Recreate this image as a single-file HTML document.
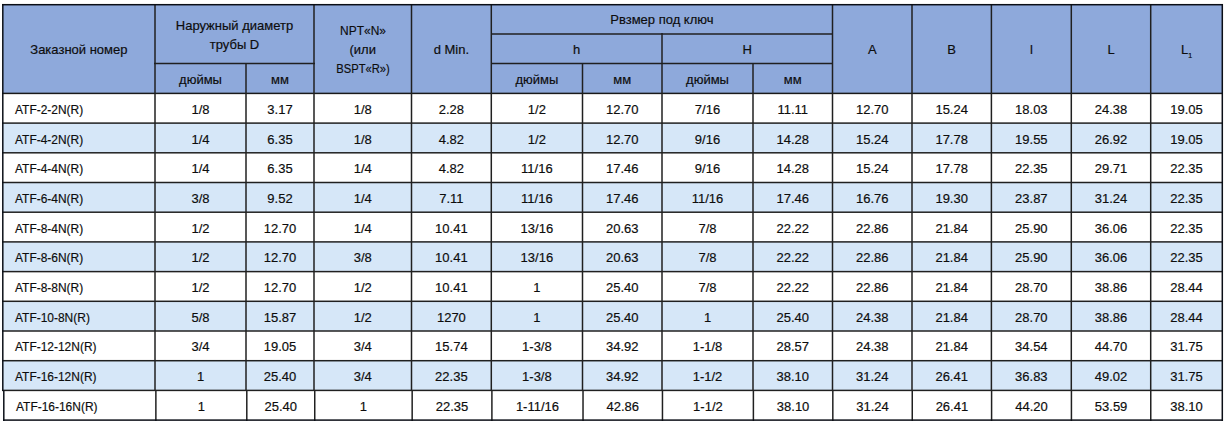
<!DOCTYPE html>
<html><head><meta charset="utf-8"><style>
html,body{margin:0;padding:0;background:#fff;width:1226px;height:427px;overflow:hidden}
body>div{position:absolute}
.t{font-family:"Liberation Sans",sans-serif;font-size:13px;line-height:15px;color:#0d0d0d;-webkit-text-stroke:0.18px #0d0d0d;white-space:nowrap}
.sub{font-size:7px;position:relative;top:4px;margin-left:0px;-webkit-text-stroke:0.2px #0d0d0d}
</style></head><body>
<div style="left:2.80px;top:4.70px;width:1219.50px;height:88.70px;background:#8EA9DB;"></div>
<div style="left:2.80px;top:93.40px;width:1219.50px;height:29.70px;background:#FFFFFF;"></div>
<div style="left:2.80px;top:123.10px;width:1219.50px;height:29.70px;background:#D6E7F8;"></div>
<div style="left:2.80px;top:152.80px;width:1219.50px;height:29.70px;background:#FFFFFF;"></div>
<div style="left:2.80px;top:182.50px;width:1219.50px;height:29.70px;background:#D6E7F8;"></div>
<div style="left:2.80px;top:212.20px;width:1219.50px;height:29.70px;background:#FFFFFF;"></div>
<div style="left:2.80px;top:241.90px;width:1219.50px;height:29.70px;background:#D6E7F8;"></div>
<div style="left:2.80px;top:271.60px;width:1219.50px;height:29.70px;background:#FFFFFF;"></div>
<div style="left:2.80px;top:301.30px;width:1219.50px;height:29.70px;background:#D6E7F8;"></div>
<div style="left:2.80px;top:331.00px;width:1219.50px;height:29.70px;background:#FFFFFF;"></div>
<div style="left:2.80px;top:360.70px;width:1219.50px;height:29.70px;background:#D6E7F8;"></div>
<div style="left:2.80px;top:390.40px;width:1219.50px;height:29.70px;background:#FFFFFF;"></div>
<div style="left:491.00px;top:33.00px;width:342.00px;height:1.00px;background:rgba(32,32,32,0.750);"></div>
<div style="left:491.00px;top:34.00px;width:342.00px;height:1.00px;background:rgba(32,32,32,0.750);"></div>
<div style="left:154.00px;top:62.00px;width:161.00px;height:1.00px;background:rgba(32,32,32,0.250);"></div>
<div style="left:154.00px;top:63.00px;width:161.00px;height:1.00px;background:rgba(32,32,32,1.000);"></div>
<div style="left:154.00px;top:64.00px;width:161.00px;height:1.00px;background:rgba(32,32,32,0.250);"></div>
<div style="left:491.00px;top:62.00px;width:342.00px;height:1.00px;background:rgba(32,32,32,0.250);"></div>
<div style="left:491.00px;top:63.00px;width:342.00px;height:1.00px;background:rgba(32,32,32,1.000);"></div>
<div style="left:491.00px;top:64.00px;width:342.00px;height:1.00px;background:rgba(32,32,32,0.250);"></div>
<div style="left:2.00px;top:92.00px;width:1221.00px;height:1.00px;background:rgba(26,26,26,0.350);"></div>
<div style="left:2.00px;top:93.00px;width:1221.00px;height:1.00px;background:rgba(26,26,26,1.000);"></div>
<div style="left:2.00px;top:94.00px;width:1221.00px;height:1.00px;background:rgba(26,26,26,0.150);"></div>
<div style="left:2.00px;top:122.00px;width:1221.00px;height:1.00px;background:rgba(32,32,32,0.650);"></div>
<div style="left:2.00px;top:123.00px;width:1221.00px;height:1.00px;background:rgba(32,32,32,0.850);"></div>
<div style="left:2.00px;top:152.00px;width:1221.00px;height:1.00px;background:rgba(32,32,32,0.950);"></div>
<div style="left:2.00px;top:153.00px;width:1221.00px;height:1.00px;background:rgba(32,32,32,0.550);"></div>
<div style="left:2.00px;top:181.00px;width:1221.00px;height:1.00px;background:rgba(32,32,32,0.250);"></div>
<div style="left:2.00px;top:182.00px;width:1221.00px;height:1.00px;background:rgba(32,32,32,1.000);"></div>
<div style="left:2.00px;top:183.00px;width:1221.00px;height:1.00px;background:rgba(32,32,32,0.250);"></div>
<div style="left:2.00px;top:211.00px;width:1221.00px;height:1.00px;background:rgba(32,32,32,0.550);"></div>
<div style="left:2.00px;top:212.00px;width:1221.00px;height:1.00px;background:rgba(32,32,32,0.950);"></div>
<div style="left:2.00px;top:241.00px;width:1221.00px;height:1.00px;background:rgba(32,32,32,0.850);"></div>
<div style="left:2.00px;top:242.00px;width:1221.00px;height:1.00px;background:rgba(32,32,32,0.650);"></div>
<div style="left:2.00px;top:270.00px;width:1221.00px;height:1.00px;background:rgba(32,32,32,0.150);"></div>
<div style="left:2.00px;top:271.00px;width:1221.00px;height:1.00px;background:rgba(32,32,32,1.000);"></div>
<div style="left:2.00px;top:272.00px;width:1221.00px;height:1.00px;background:rgba(32,32,32,0.350);"></div>
<div style="left:2.00px;top:300.00px;width:1221.00px;height:1.00px;background:rgba(32,32,32,0.450);"></div>
<div style="left:2.00px;top:301.00px;width:1221.00px;height:1.00px;background:rgba(32,32,32,1.000);"></div>
<div style="left:2.00px;top:302.00px;width:1221.00px;height:1.00px;background:rgba(32,32,32,0.050);"></div>
<div style="left:2.00px;top:330.00px;width:1221.00px;height:1.00px;background:rgba(32,32,32,0.750);"></div>
<div style="left:2.00px;top:331.00px;width:1221.00px;height:1.00px;background:rgba(32,32,32,0.750);"></div>
<div style="left:2.00px;top:359.00px;width:1221.00px;height:1.00px;background:rgba(32,32,32,0.050);"></div>
<div style="left:2.00px;top:360.00px;width:1221.00px;height:1.00px;background:rgba(32,32,32,1.000);"></div>
<div style="left:2.00px;top:361.00px;width:1221.00px;height:1.00px;background:rgba(32,32,32,0.450);"></div>
<div style="left:2.00px;top:389.00px;width:1221.00px;height:1.00px;background:rgba(32,32,32,0.350);"></div>
<div style="left:2.00px;top:390.00px;width:1221.00px;height:1.00px;background:rgba(32,32,32,1.000);"></div>
<div style="left:2.00px;top:391.00px;width:1221.00px;height:1.00px;background:rgba(32,32,32,0.150);"></div>
<div style="left:154.00px;top:4.00px;width:1.00px;height:387.00px;background:rgba(32,32,32,0.750);"></div>
<div style="left:155.00px;top:4.00px;width:1.00px;height:387.00px;background:rgba(32,32,32,0.750);"></div>
<div style="left:155.00px;top:391.00px;width:1.00px;height:30.00px;background:rgba(32,32,32,0.877);"></div>
<div style="left:156.00px;top:391.00px;width:1.00px;height:30.00px;background:rgba(32,32,32,0.623);"></div>
<div style="left:313.00px;top:4.00px;width:1.00px;height:387.00px;background:rgba(32,32,32,0.750);"></div>
<div style="left:314.00px;top:4.00px;width:1.00px;height:387.00px;background:rgba(32,32,32,0.750);"></div>
<div style="left:314.00px;top:391.00px;width:1.00px;height:30.00px;background:rgba(32,32,32,1.000);"></div>
<div style="left:315.00px;top:391.00px;width:1.00px;height:30.00px;background:rgba(32,32,32,0.493);"></div>
<div style="left:410.00px;top:4.00px;width:1.00px;height:387.00px;background:rgba(32,32,32,0.250);"></div>
<div style="left:411.00px;top:4.00px;width:1.00px;height:387.00px;background:rgba(32,32,32,1.000);"></div>
<div style="left:412.00px;top:4.00px;width:1.00px;height:387.00px;background:rgba(32,32,32,0.250);"></div>
<div style="left:411.00px;top:391.00px;width:1.00px;height:30.00px;background:rgba(32,32,32,0.587);"></div>
<div style="left:412.00px;top:391.00px;width:1.00px;height:30.00px;background:rgba(32,32,32,0.913);"></div>
<div style="left:490.00px;top:4.00px;width:1.00px;height:387.00px;background:rgba(32,32,32,0.450);"></div>
<div style="left:491.00px;top:4.00px;width:1.00px;height:387.00px;background:rgba(32,32,32,1.000);"></div>
<div style="left:492.00px;top:4.00px;width:1.00px;height:387.00px;background:rgba(32,32,32,0.050);"></div>
<div style="left:491.00px;top:391.00px;width:1.00px;height:30.00px;background:rgba(32,32,32,0.852);"></div>
<div style="left:492.00px;top:391.00px;width:1.00px;height:30.00px;background:rgba(32,32,32,0.648);"></div>
<div style="left:831.00px;top:4.00px;width:1.00px;height:387.00px;background:rgba(32,32,32,0.250);"></div>
<div style="left:832.00px;top:4.00px;width:1.00px;height:387.00px;background:rgba(32,32,32,1.000);"></div>
<div style="left:833.00px;top:4.00px;width:1.00px;height:387.00px;background:rgba(32,32,32,0.250);"></div>
<div style="left:832.00px;top:391.00px;width:1.00px;height:30.00px;background:rgba(32,32,32,0.931);"></div>
<div style="left:833.00px;top:391.00px;width:1.00px;height:30.00px;background:rgba(32,32,32,0.569);"></div>
<div style="left:911.00px;top:4.00px;width:1.00px;height:387.00px;background:rgba(32,32,32,0.750);"></div>
<div style="left:912.00px;top:4.00px;width:1.00px;height:387.00px;background:rgba(32,32,32,0.750);"></div>
<div style="left:911.00px;top:391.00px;width:1.00px;height:30.00px;background:rgba(32,32,32,0.496);"></div>
<div style="left:912.00px;top:391.00px;width:1.00px;height:30.00px;background:rgba(32,32,32,1.000);"></div>
<div style="left:990.00px;top:4.00px;width:1.00px;height:387.00px;background:rgba(32,32,32,0.350);"></div>
<div style="left:991.00px;top:4.00px;width:1.00px;height:387.00px;background:rgba(32,32,32,1.000);"></div>
<div style="left:992.00px;top:4.00px;width:1.00px;height:387.00px;background:rgba(32,32,32,0.150);"></div>
<div style="left:990.00px;top:391.00px;width:1.00px;height:30.00px;background:rgba(32,32,32,0.161);"></div>
<div style="left:991.00px;top:391.00px;width:1.00px;height:30.00px;background:rgba(32,32,32,1.000);"></div>
<div style="left:992.00px;top:391.00px;width:1.00px;height:30.00px;background:rgba(32,32,32,0.339);"></div>
<div style="left:1070.00px;top:4.00px;width:1.00px;height:387.00px;background:rgba(32,32,32,0.450);"></div>
<div style="left:1071.00px;top:4.00px;width:1.00px;height:387.00px;background:rgba(32,32,32,1.000);"></div>
<div style="left:1072.00px;top:4.00px;width:1.00px;height:387.00px;background:rgba(32,32,32,0.050);"></div>
<div style="left:1070.00px;top:391.00px;width:1.00px;height:30.00px;background:rgba(32,32,32,0.327);"></div>
<div style="left:1071.00px;top:391.00px;width:1.00px;height:30.00px;background:rgba(32,32,32,1.000);"></div>
<div style="left:1072.00px;top:391.00px;width:1.00px;height:30.00px;background:rgba(32,32,32,0.173);"></div>
<div style="left:1149.00px;top:4.00px;width:1.00px;height:387.00px;background:rgba(32,32,32,0.050);"></div>
<div style="left:1150.00px;top:4.00px;width:1.00px;height:387.00px;background:rgba(32,32,32,1.000);"></div>
<div style="left:1151.00px;top:4.00px;width:1.00px;height:387.00px;background:rgba(32,32,32,0.450);"></div>
<div style="left:1150.00px;top:391.00px;width:1.00px;height:30.00px;background:rgba(32,32,32,0.992);"></div>
<div style="left:1151.00px;top:391.00px;width:1.00px;height:30.00px;background:rgba(32,32,32,0.508);"></div>
<div style="left:245.00px;top:63.00px;width:1.00px;height:328.00px;background:rgba(32,32,32,0.750);"></div>
<div style="left:246.00px;top:63.00px;width:1.00px;height:328.00px;background:rgba(32,32,32,0.750);"></div>
<div style="left:246.00px;top:391.00px;width:1.00px;height:30.00px;background:rgba(32,32,32,0.951);"></div>
<div style="left:247.00px;top:391.00px;width:1.00px;height:30.00px;background:rgba(32,32,32,0.549);"></div>
<div style="left:581.00px;top:63.00px;width:1.00px;height:328.00px;background:rgba(32,32,32,0.250);"></div>
<div style="left:582.00px;top:63.00px;width:1.00px;height:328.00px;background:rgba(32,32,32,1.000);"></div>
<div style="left:583.00px;top:63.00px;width:1.00px;height:328.00px;background:rgba(32,32,32,0.250);"></div>
<div style="left:582.00px;top:391.00px;width:1.00px;height:30.00px;background:rgba(32,32,32,0.727);"></div>
<div style="left:583.00px;top:391.00px;width:1.00px;height:30.00px;background:rgba(32,32,32,0.773);"></div>
<div style="left:752.00px;top:63.00px;width:1.00px;height:328.00px;background:rgba(32,32,32,0.750);"></div>
<div style="left:753.00px;top:63.00px;width:1.00px;height:328.00px;background:rgba(32,32,32,0.750);"></div>
<div style="left:752.00px;top:391.00px;width:1.00px;height:30.00px;background:rgba(32,32,32,0.366);"></div>
<div style="left:753.00px;top:391.00px;width:1.00px;height:30.00px;background:rgba(32,32,32,1.000);"></div>
<div style="left:754.00px;top:391.00px;width:1.00px;height:30.00px;background:rgba(32,32,32,0.134);"></div>
<div style="left:661.00px;top:33.00px;width:1.00px;height:358.00px;background:rgba(32,32,32,0.750);"></div>
<div style="left:662.00px;top:33.00px;width:1.00px;height:358.00px;background:rgba(32,32,32,0.750);"></div>
<div style="left:661.00px;top:391.00px;width:1.00px;height:30.00px;background:rgba(32,32,32,0.292);"></div>
<div style="left:662.00px;top:391.00px;width:1.00px;height:30.00px;background:rgba(32,32,32,1.000);"></div>
<div style="left:663.00px;top:391.00px;width:1.00px;height:30.00px;background:rgba(32,32,32,0.208);"></div>
<div style="left:2.00px;top:3.00px;width:1221.00px;height:1.00px;background:rgba(10,14,22,0.050);"></div>
<div style="left:2.00px;top:4.00px;width:1221.00px;height:1.00px;background:rgba(10,14,22,1.000);"></div>
<div style="left:2.00px;top:5.00px;width:1221.00px;height:1.00px;background:rgba(10,14,22,0.450);"></div>
<div style="left:3.00px;top:419.00px;width:1220.00px;height:1.00px;background:rgba(10,14,22,0.650);"></div>
<div style="left:3.00px;top:420.00px;width:1220.00px;height:1.00px;background:rgba(10,14,22,0.850);"></div>
<div style="left:2.00px;top:4.00px;width:1.00px;height:387.00px;background:rgba(10,14,22,0.950);"></div>
<div style="left:3.00px;top:4.00px;width:1.00px;height:387.00px;background:rgba(10,14,22,0.550);"></div>
<div style="left:3.00px;top:391.00px;width:1.00px;height:30.00px;background:rgba(10,14,22,0.950);"></div>
<div style="left:4.00px;top:391.00px;width:1.00px;height:30.00px;background:rgba(10,14,22,0.550);"></div>
<div style="left:1221.00px;top:4.00px;width:1.00px;height:417.00px;background:rgba(10,14,22,0.450);"></div>
<div style="left:1222.00px;top:4.00px;width:1.00px;height:417.00px;background:rgba(10,14,22,1.000);"></div>
<div style="left:1223.00px;top:4.00px;width:1.00px;height:417.00px;background:rgba(10,14,22,0.050);"></div>
<div class="t" style="left:78.90px;top:42.00px;transform:translateX(-50%);">Заказной номер</div>
<div class="t" style="left:234.50px;top:18.00px;transform:translateX(-50%);">Наружный диаметр</div>
<div class="t" style="left:234.50px;top:37.00px;transform:translateX(-50%);">трубы D</div>
<div class="t" style="left:200.50px;top:72.00px;transform:translateX(-50%);">дюймы</div>
<div class="t" style="left:280.00px;top:72.00px;transform:translateX(-50%);">мм</div>
<div class="t" style="left:362.75px;top:23.00px;transform:translateX(-50%) scaleX(0.92);">NPT«N»</div>
<div class="t" style="left:362.75px;top:42.00px;transform:translateX(-50%);">(или</div>
<div class="t" style="left:362.75px;top:61.00px;transform:translateX(-50%) scaleX(0.86);">BSPT«R»)</div>
<div class="t" style="left:451.40px;top:42.00px;transform:translateX(-50%);">d Min.</div>
<div class="t" style="left:661.90px;top:12.00px;transform:translateX(-50%);">Рвзмер под ключ</div>
<div class="t" style="left:576.65px;top:42.00px;transform:translateX(-50%);">h</div>
<div class="t" style="left:747.25px;top:42.00px;transform:translateX(-50%);">H</div>
<div class="t" style="left:536.90px;top:72.00px;transform:translateX(-50%);">дюймы</div>
<div class="t" style="left:622.25px;top:72.00px;transform:translateX(-50%);">мм</div>
<div class="t" style="left:707.50px;top:72.00px;transform:translateX(-50%);">дюймы</div>
<div class="t" style="left:792.75px;top:72.00px;transform:translateX(-50%);">мм</div>
<div class="t" style="left:872.25px;top:42.00px;transform:translateX(-50%);">A</div>
<div class="t" style="left:951.70px;top:42.00px;transform:translateX(-50%);">B</div>
<div class="t" style="left:1031.35px;top:42.00px;transform:translateX(-50%);">l</div>
<div class="t" style="left:1111.00px;top:42.00px;transform:translateX(-50%);">L</div>
<div class="t" style="left:1186.50px;top:42.00px;transform:translateX(-50%);">L<span class="sub">1</span></div>
<div class="t" style="left:15.00px;top:101.80px;transform:scaleX(0.92);transform-origin:0 0;">ATF-2-2N(R)</div>
<div class="t" style="left:200.50px;top:101.80px;transform:translateX(-50%);">1/8</div>
<div class="t" style="left:280.00px;top:101.80px;transform:translateX(-50%);">3.17</div>
<div class="t" style="left:362.75px;top:101.80px;transform:translateX(-50%);">1/8</div>
<div class="t" style="left:451.40px;top:101.80px;transform:translateX(-50%);">2.28</div>
<div class="t" style="left:536.90px;top:101.80px;transform:translateX(-50%);">1/2</div>
<div class="t" style="left:622.25px;top:101.80px;transform:translateX(-50%);">12.70</div>
<div class="t" style="left:707.50px;top:101.80px;transform:translateX(-50%);">7/16</div>
<div class="t" style="left:792.75px;top:101.80px;transform:translateX(-50%);">11.11</div>
<div class="t" style="left:872.25px;top:101.80px;transform:translateX(-50%);">12.70</div>
<div class="t" style="left:951.70px;top:101.80px;transform:translateX(-50%);">15.24</div>
<div class="t" style="left:1031.35px;top:101.80px;transform:translateX(-50%);">18.03</div>
<div class="t" style="left:1111.00px;top:101.80px;transform:translateX(-50%);">24.38</div>
<div class="t" style="left:1186.50px;top:101.80px;transform:translateX(-50%);">19.05</div>
<div class="t" style="left:15.00px;top:131.50px;transform:scaleX(0.92);transform-origin:0 0;">ATF-4-2N(R)</div>
<div class="t" style="left:200.50px;top:131.50px;transform:translateX(-50%);">1/4</div>
<div class="t" style="left:280.00px;top:131.50px;transform:translateX(-50%);">6.35</div>
<div class="t" style="left:362.75px;top:131.50px;transform:translateX(-50%);">1/8</div>
<div class="t" style="left:451.40px;top:131.50px;transform:translateX(-50%);">4.82</div>
<div class="t" style="left:536.90px;top:131.50px;transform:translateX(-50%);">1/2</div>
<div class="t" style="left:622.25px;top:131.50px;transform:translateX(-50%);">12.70</div>
<div class="t" style="left:707.50px;top:131.50px;transform:translateX(-50%);">9/16</div>
<div class="t" style="left:792.75px;top:131.50px;transform:translateX(-50%);">14.28</div>
<div class="t" style="left:872.25px;top:131.50px;transform:translateX(-50%);">15.24</div>
<div class="t" style="left:951.70px;top:131.50px;transform:translateX(-50%);">17.78</div>
<div class="t" style="left:1031.35px;top:131.50px;transform:translateX(-50%);">19.55</div>
<div class="t" style="left:1111.00px;top:131.50px;transform:translateX(-50%);">26.92</div>
<div class="t" style="left:1186.50px;top:131.50px;transform:translateX(-50%);">19.05</div>
<div class="t" style="left:15.00px;top:161.20px;transform:scaleX(0.92);transform-origin:0 0;">ATF-4-4N(R)</div>
<div class="t" style="left:200.50px;top:161.20px;transform:translateX(-50%);">1/4</div>
<div class="t" style="left:280.00px;top:161.20px;transform:translateX(-50%);">6.35</div>
<div class="t" style="left:362.75px;top:161.20px;transform:translateX(-50%);">1/4</div>
<div class="t" style="left:451.40px;top:161.20px;transform:translateX(-50%);">4.82</div>
<div class="t" style="left:536.90px;top:161.20px;transform:translateX(-50%);">11/16</div>
<div class="t" style="left:622.25px;top:161.20px;transform:translateX(-50%);">17.46</div>
<div class="t" style="left:707.50px;top:161.20px;transform:translateX(-50%);">9/16</div>
<div class="t" style="left:792.75px;top:161.20px;transform:translateX(-50%);">14.28</div>
<div class="t" style="left:872.25px;top:161.20px;transform:translateX(-50%);">15.24</div>
<div class="t" style="left:951.70px;top:161.20px;transform:translateX(-50%);">17.78</div>
<div class="t" style="left:1031.35px;top:161.20px;transform:translateX(-50%);">22.35</div>
<div class="t" style="left:1111.00px;top:161.20px;transform:translateX(-50%);">29.71</div>
<div class="t" style="left:1186.50px;top:161.20px;transform:translateX(-50%);">22.35</div>
<div class="t" style="left:15.00px;top:190.90px;transform:scaleX(0.92);transform-origin:0 0;">ATF-6-4N(R)</div>
<div class="t" style="left:200.50px;top:190.90px;transform:translateX(-50%);">3/8</div>
<div class="t" style="left:280.00px;top:190.90px;transform:translateX(-50%);">9.52</div>
<div class="t" style="left:362.75px;top:190.90px;transform:translateX(-50%);">1/4</div>
<div class="t" style="left:451.40px;top:190.90px;transform:translateX(-50%);">7.11</div>
<div class="t" style="left:536.90px;top:190.90px;transform:translateX(-50%);">11/16</div>
<div class="t" style="left:622.25px;top:190.90px;transform:translateX(-50%);">17.46</div>
<div class="t" style="left:707.50px;top:190.90px;transform:translateX(-50%);">11/16</div>
<div class="t" style="left:792.75px;top:190.90px;transform:translateX(-50%);">17.46</div>
<div class="t" style="left:872.25px;top:190.90px;transform:translateX(-50%);">16.76</div>
<div class="t" style="left:951.70px;top:190.90px;transform:translateX(-50%);">19.30</div>
<div class="t" style="left:1031.35px;top:190.90px;transform:translateX(-50%);">23.87</div>
<div class="t" style="left:1111.00px;top:190.90px;transform:translateX(-50%);">31.24</div>
<div class="t" style="left:1186.50px;top:190.90px;transform:translateX(-50%);">22.35</div>
<div class="t" style="left:15.00px;top:220.60px;transform:scaleX(0.92);transform-origin:0 0;">ATF-8-4N(R)</div>
<div class="t" style="left:200.50px;top:220.60px;transform:translateX(-50%);">1/2</div>
<div class="t" style="left:280.00px;top:220.60px;transform:translateX(-50%);">12.70</div>
<div class="t" style="left:362.75px;top:220.60px;transform:translateX(-50%);">1/4</div>
<div class="t" style="left:451.40px;top:220.60px;transform:translateX(-50%);">10.41</div>
<div class="t" style="left:536.90px;top:220.60px;transform:translateX(-50%);">13/16</div>
<div class="t" style="left:622.25px;top:220.60px;transform:translateX(-50%);">20.63</div>
<div class="t" style="left:707.50px;top:220.60px;transform:translateX(-50%);">7/8</div>
<div class="t" style="left:792.75px;top:220.60px;transform:translateX(-50%);">22.22</div>
<div class="t" style="left:872.25px;top:220.60px;transform:translateX(-50%);">22.86</div>
<div class="t" style="left:951.70px;top:220.60px;transform:translateX(-50%);">21.84</div>
<div class="t" style="left:1031.35px;top:220.60px;transform:translateX(-50%);">25.90</div>
<div class="t" style="left:1111.00px;top:220.60px;transform:translateX(-50%);">36.06</div>
<div class="t" style="left:1186.50px;top:220.60px;transform:translateX(-50%);">22.35</div>
<div class="t" style="left:15.00px;top:250.30px;transform:scaleX(0.92);transform-origin:0 0;">ATF-8-6N(R)</div>
<div class="t" style="left:200.50px;top:250.30px;transform:translateX(-50%);">1/2</div>
<div class="t" style="left:280.00px;top:250.30px;transform:translateX(-50%);">12.70</div>
<div class="t" style="left:362.75px;top:250.30px;transform:translateX(-50%);">3/8</div>
<div class="t" style="left:451.40px;top:250.30px;transform:translateX(-50%);">10.41</div>
<div class="t" style="left:536.90px;top:250.30px;transform:translateX(-50%);">13/16</div>
<div class="t" style="left:622.25px;top:250.30px;transform:translateX(-50%);">20.63</div>
<div class="t" style="left:707.50px;top:250.30px;transform:translateX(-50%);">7/8</div>
<div class="t" style="left:792.75px;top:250.30px;transform:translateX(-50%);">22.22</div>
<div class="t" style="left:872.25px;top:250.30px;transform:translateX(-50%);">22.86</div>
<div class="t" style="left:951.70px;top:250.30px;transform:translateX(-50%);">21.84</div>
<div class="t" style="left:1031.35px;top:250.30px;transform:translateX(-50%);">25.90</div>
<div class="t" style="left:1111.00px;top:250.30px;transform:translateX(-50%);">36.06</div>
<div class="t" style="left:1186.50px;top:250.30px;transform:translateX(-50%);">22.35</div>
<div class="t" style="left:15.00px;top:280.00px;transform:scaleX(0.92);transform-origin:0 0;">ATF-8-8N(R)</div>
<div class="t" style="left:200.50px;top:280.00px;transform:translateX(-50%);">1/2</div>
<div class="t" style="left:280.00px;top:280.00px;transform:translateX(-50%);">12.70</div>
<div class="t" style="left:362.75px;top:280.00px;transform:translateX(-50%);">1/2</div>
<div class="t" style="left:451.40px;top:280.00px;transform:translateX(-50%);">10.41</div>
<div class="t" style="left:536.90px;top:280.00px;transform:translateX(-50%);">1</div>
<div class="t" style="left:622.25px;top:280.00px;transform:translateX(-50%);">25.40</div>
<div class="t" style="left:707.50px;top:280.00px;transform:translateX(-50%);">7/8</div>
<div class="t" style="left:792.75px;top:280.00px;transform:translateX(-50%);">22.22</div>
<div class="t" style="left:872.25px;top:280.00px;transform:translateX(-50%);">22.86</div>
<div class="t" style="left:951.70px;top:280.00px;transform:translateX(-50%);">21.84</div>
<div class="t" style="left:1031.35px;top:280.00px;transform:translateX(-50%);">28.70</div>
<div class="t" style="left:1111.00px;top:280.00px;transform:translateX(-50%);">38.86</div>
<div class="t" style="left:1186.50px;top:280.00px;transform:translateX(-50%);">28.44</div>
<div class="t" style="left:15.00px;top:309.70px;transform:scaleX(0.92);transform-origin:0 0;">ATF-10-8N(R)</div>
<div class="t" style="left:200.50px;top:309.70px;transform:translateX(-50%);">5/8</div>
<div class="t" style="left:280.00px;top:309.70px;transform:translateX(-50%);">15.87</div>
<div class="t" style="left:362.75px;top:309.70px;transform:translateX(-50%);">1/2</div>
<div class="t" style="left:451.40px;top:309.70px;transform:translateX(-50%);">1270</div>
<div class="t" style="left:536.90px;top:309.70px;transform:translateX(-50%);">1</div>
<div class="t" style="left:622.25px;top:309.70px;transform:translateX(-50%);">25.40</div>
<div class="t" style="left:707.50px;top:309.70px;transform:translateX(-50%);">1</div>
<div class="t" style="left:792.75px;top:309.70px;transform:translateX(-50%);">25.40</div>
<div class="t" style="left:872.25px;top:309.70px;transform:translateX(-50%);">24.38</div>
<div class="t" style="left:951.70px;top:309.70px;transform:translateX(-50%);">21.84</div>
<div class="t" style="left:1031.35px;top:309.70px;transform:translateX(-50%);">28.70</div>
<div class="t" style="left:1111.00px;top:309.70px;transform:translateX(-50%);">38.86</div>
<div class="t" style="left:1186.50px;top:309.70px;transform:translateX(-50%);">28.44</div>
<div class="t" style="left:15.00px;top:339.40px;transform:scaleX(0.92);transform-origin:0 0;">ATF-12-12N(R)</div>
<div class="t" style="left:200.50px;top:339.40px;transform:translateX(-50%);">3/4</div>
<div class="t" style="left:280.00px;top:339.40px;transform:translateX(-50%);">19.05</div>
<div class="t" style="left:362.75px;top:339.40px;transform:translateX(-50%);">3/4</div>
<div class="t" style="left:451.40px;top:339.40px;transform:translateX(-50%);">15.74</div>
<div class="t" style="left:536.90px;top:339.40px;transform:translateX(-50%);">1-3/8</div>
<div class="t" style="left:622.25px;top:339.40px;transform:translateX(-50%);">34.92</div>
<div class="t" style="left:707.50px;top:339.40px;transform:translateX(-50%);">1-1/8</div>
<div class="t" style="left:792.75px;top:339.40px;transform:translateX(-50%);">28.57</div>
<div class="t" style="left:872.25px;top:339.40px;transform:translateX(-50%);">24.38</div>
<div class="t" style="left:951.70px;top:339.40px;transform:translateX(-50%);">21.84</div>
<div class="t" style="left:1031.35px;top:339.40px;transform:translateX(-50%);">34.54</div>
<div class="t" style="left:1111.00px;top:339.40px;transform:translateX(-50%);">44.70</div>
<div class="t" style="left:1186.50px;top:339.40px;transform:translateX(-50%);">31.75</div>
<div class="t" style="left:15.00px;top:369.10px;transform:scaleX(0.92);transform-origin:0 0;">ATF-16-12N(R)</div>
<div class="t" style="left:200.50px;top:369.10px;transform:translateX(-50%);">1</div>
<div class="t" style="left:280.00px;top:369.10px;transform:translateX(-50%);">25.40</div>
<div class="t" style="left:362.75px;top:369.10px;transform:translateX(-50%);">3/4</div>
<div class="t" style="left:451.40px;top:369.10px;transform:translateX(-50%);">22.35</div>
<div class="t" style="left:536.90px;top:369.10px;transform:translateX(-50%);">1-3/8</div>
<div class="t" style="left:622.25px;top:369.10px;transform:translateX(-50%);">34.92</div>
<div class="t" style="left:707.50px;top:369.10px;transform:translateX(-50%);">1-1/2</div>
<div class="t" style="left:792.75px;top:369.10px;transform:translateX(-50%);">38.10</div>
<div class="t" style="left:872.25px;top:369.10px;transform:translateX(-50%);">31.24</div>
<div class="t" style="left:951.70px;top:369.10px;transform:translateX(-50%);">26.41</div>
<div class="t" style="left:1031.35px;top:369.10px;transform:translateX(-50%);">36.83</div>
<div class="t" style="left:1111.00px;top:369.10px;transform:translateX(-50%);">49.02</div>
<div class="t" style="left:1186.50px;top:369.10px;transform:translateX(-50%);">31.75</div>
<div class="t" style="left:15.99px;top:398.80px;transform:scaleX(0.92);transform-origin:0 0;">ATF-16-16N(R)</div>
<div class="t" style="left:201.34px;top:398.80px;transform:translateX(-50%);">1</div>
<div class="t" style="left:280.77px;top:398.80px;transform:translateX(-50%);">25.40</div>
<div class="t" style="left:363.45px;top:398.80px;transform:translateX(-50%);">1</div>
<div class="t" style="left:452.03px;top:398.80px;transform:translateX(-50%);">22.35</div>
<div class="t" style="left:537.46px;top:398.80px;transform:translateX(-50%);">1-11/16</div>
<div class="t" style="left:622.74px;top:398.80px;transform:translateX(-50%);">42.86</div>
<div class="t" style="left:707.92px;top:398.80px;transform:translateX(-50%);">1-1/2</div>
<div class="t" style="left:793.10px;top:398.80px;transform:translateX(-50%);">38.10</div>
<div class="t" style="left:872.54px;top:398.80px;transform:translateX(-50%);">31.24</div>
<div class="t" style="left:951.92px;top:398.80px;transform:translateX(-50%);">26.41</div>
<div class="t" style="left:1031.51px;top:398.80px;transform:translateX(-50%);">44.20</div>
<div class="t" style="left:1111.09px;top:398.80px;transform:translateX(-50%);">53.59</div>
<div class="t" style="left:1186.53px;top:398.80px;transform:translateX(-50%);">38.10</div>
</body></html>
